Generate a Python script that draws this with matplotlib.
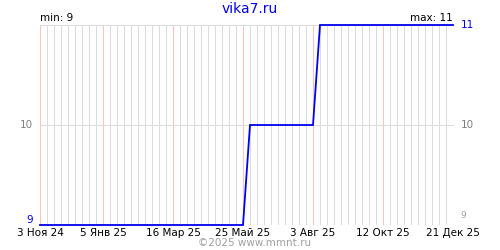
import matplotlib
matplotlib.use("Agg")
import matplotlib.pyplot as plt
import matplotlib.dates as mdates
import numpy as np
import datetime as dt

# Data
start = dt.date(2024, 11, 3)
n_weeks = 60
dates = [start + dt.timedelta(weeks=i) for i in range(n_weeks)]
# value levels by week
values = [9] * 30 + [10] * 10 + [11] * 20
tick_idx = [0, 9, 19, 29, 39, 49, 59]
tick_labels = ["3 Ноя 24", "5 Янв 25", "16 Мар 25", "25 Май 25",
               "3 Авг 25", "12 Окт 25", "21 Дек 25"]
title = "vika7.ru"
footer = "©2025 www.mmnt.ru"
y_min, y_max = 9, 11

plt.rcParams['font.family'] = ['DejaVu Sans']
fig = plt.figure(figsize=(5, 2.5), dpi=100)
ax = fig.add_axes([0.08, 0.1, 0.826, 0.8])
x = mdates.date2num(dates)

# weekly grid
for i, xv in enumerate(x):
    col = '#ffc0c0' if i in tick_idx else '#dcdcdc'
    ax.axvline(xv, color=col, lw=0.75, zorder=1, snap=True)
for yv in [10, 11]:
    ax.axhline(yv, color='#dcdcdc', lw=0.75, zorder=1, snap=True, clip_on=False)

ax.plot(x, values, color='#0000ee', lw=1.3, zorder=3, solid_joinstyle='miter', clip_on=False)

ax.set_xlim(x[0], x[-1])
ax.set_ylim(y_min, y_max)
for s in ax.spines.values():
    s.set_visible(False)
ax.set_yticks([])
ax.set_xticks([x[i] for i in tick_idx])
ax.set_xticklabels(tick_labels, fontsize=7.5)
ax.tick_params(axis='x', length=0, pad=2)

# y labels
tr = ax.get_yaxis_transform()
ax.text(-0.018, 9, "9", transform=tr, ha='right', va='bottom', color='#0000ee', fontsize=7.5)
ax.text(-0.018, 10, "10", transform=tr, ha='right', va='center', color='#808080', fontsize=7.5)
ax.text(1.018, 11, "11", transform=tr, ha='left', va='center', color='#0000ee', fontsize=7.5)
ax.text(1.018, 10, "10", transform=tr, ha='left', va='center', color='#808080', fontsize=7.5)
ax.text(1.018, 9.05, "9", transform=tr, ha='left', va='bottom', color='#a0a0a0', fontsize=6.5)

ax.text(0.0, 1.01, "min: 9", transform=ax.transAxes, ha='left', va='bottom', fontsize=7.5)
ax.text(1.0, 1.01, "max: 11", transform=ax.transAxes, ha='right', va='bottom', fontsize=7.5)

fig.text(0.5, 0.965, title, ha='center', va='center', color='#0000ee', fontsize=10)
fig.text(0.51, 0.028, footer, ha='center', va='center', color='#a0a0a0', fontsize=7.5)

fig.savefig("out.png", dpi=100)
